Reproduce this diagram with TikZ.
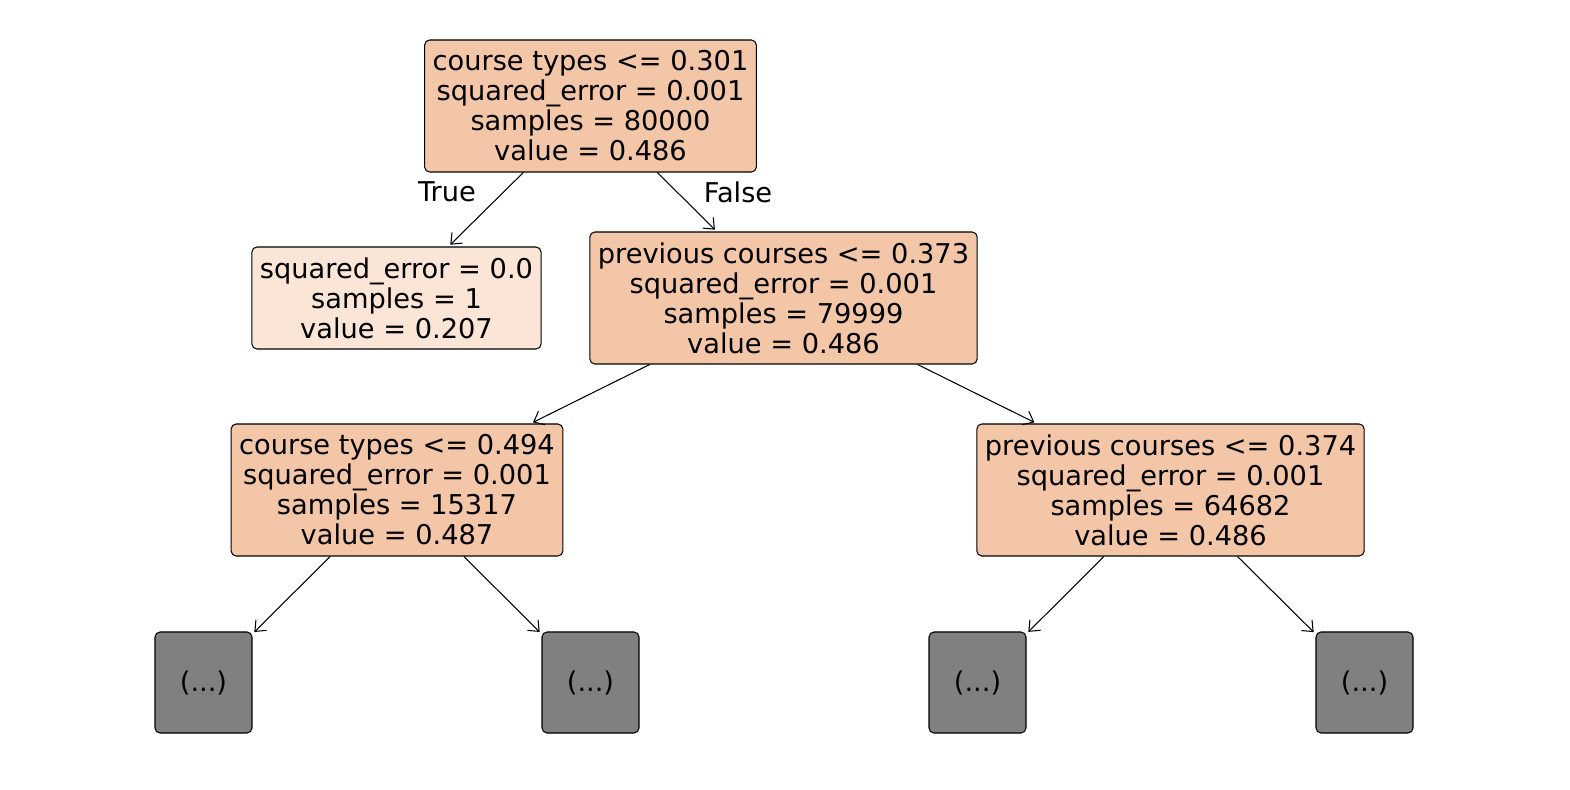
\documentclass[tikz,border=0pt]{standalone}
\usepackage{fontspec}
\setmainfont{DejaVu Sans}
\usepackage{tikz}
\usetikzlibrary{arrows.meta}
\definecolor{splitfill}{HTML}{F4C6A8}
\definecolor{leaffill}{HTML}{FAE5D6}
\definecolor{hiddenfill}{HTML}{808080}

\begin{document}
\begin{tikzpicture}[>={Straight Barb[length=0.18cm,width=0.3cm]},
	font=\fontsize{15.5}{17.07}\selectfont, line width=0.6pt,
	treenode/.style={draw, rounded corners=0.1cm, align=center, inner xsep=0.16cm, inner ysep=0pt},
	split/.style={treenode, fill=splitfill, minimum height=2.64cm},
	leaf/.style={treenode, fill=leaffill, minimum height=2.04cm},
	hidden/.style={treenode, fill=hiddenfill, minimum width=1.94cm, minimum height=2.02cm},
	edge/.style={->, shorten >=0.05cm}]
%	\draw [help lines] (0,0) grid (31.4,-15.8);
	\useasboundingbox (0,0) rectangle (31.4,-15.8);
	\node [split] (root) at (11.81,-2.12) {course types <= 0.301\\squared\_error = 0.001\\samples = 80000\\value = 0.486};
	\node [leaf] (leafa) at (7.93,-5.96) {squared\_error = 0.0\\samples = 1\\value = 0.207};
	\node [split] (prevA) at (15.67,-5.96) {previous courses <= 0.373\\squared\_error = 0.001\\samples = 79999\\value = 0.486};
	\node [split] (typesB) at (7.94,-9.80) {course types <= 0.494\\squared\_error = 0.001\\samples = 15317\\value = 0.487};
	\node [split] (prevB) at (23.41,-9.80) {previous courses <= 0.374\\squared\_error = 0.001\\samples = 64682\\value = 0.486};
	\node [hidden] (hida) at (4.07,-13.65) {(...)};
	\node [hidden] (hidb) at (11.81,-13.65) {(...)};
	\node [hidden] (hidc) at (19.55,-13.65) {(...)};
	\node [hidden] (hidd) at (27.29,-13.65) {(...)};
	\node (true) at (8.94,-3.84) {True};
	\node (false) at (14.76,-3.84) {False};
	\draw [edge] (root) -- (leafa);
	\draw [edge] (root) -- (prevA);
	\draw [edge] (prevA) -- (typesB);
	\draw [edge] (prevA) -- (prevB);
	\draw [edge] (typesB) -- (hida);
	\draw [edge] (typesB) -- (hidb);
	\draw [edge] (prevB) -- (hidc);
	\draw [edge] (prevB) -- (hidd);
\end{tikzpicture}
\end{document}
